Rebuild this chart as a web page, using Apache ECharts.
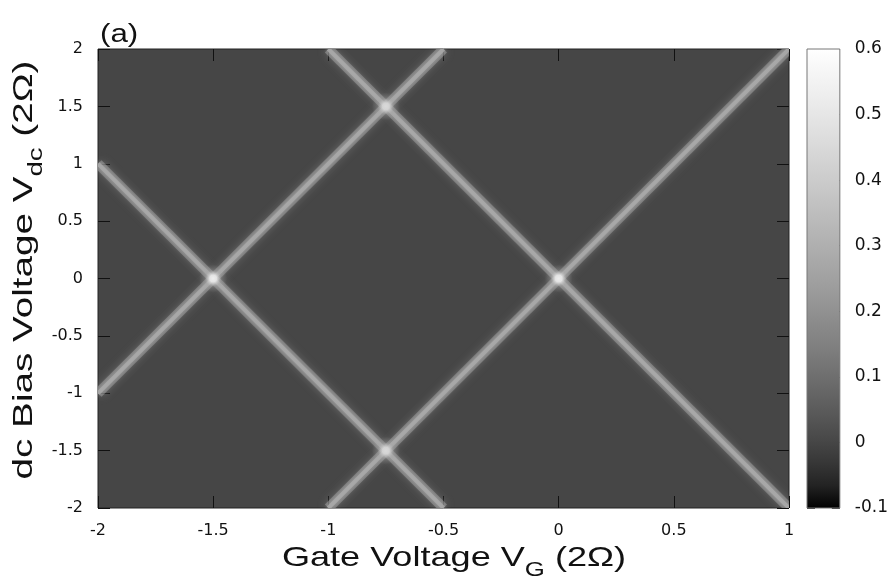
<!DOCTYPE html>
<html>
<head>
<meta charset="utf-8">
<script src="https://cdn.jsdelivr.net/npm/echarts@6/dist/echarts.min.js"></script>
<style>
  html, body { margin: 0; padding: 0; background: #ffffff; }
  #chart { width: 891px; height: 583px; }
</style>
</head>
<body>
<div id="chart"></div>
<script>
// Axis ranges, in units of 2Ω
const gateRange = [-2, 1];
const biasRange = [-2, 2];
const axisStep = 0.5;

// Colour scale of the conductance map
const colorRange = [-0.1, 0.6];
const colorStep = 0.1;
const backgroundLevel = 0;

// Conductance ridges, start and end points as [V_G, V_dc]
const ridgeStarts = [[-2, -1], [-2, 1], [-1, -2], [-1, 2]];
const ridgeEnds = [[-0.5, 2], [-0.5, -2], [1, 2], [1, -2]];
const ridgeLevel = 0.28;

// Ridge crossings (diamond corners)
const crossingGate = [-1.5, 0, -0.75, -0.75];
const crossingBias = [0, 0, 1.5, -1.5];
const crossingLevel = [0.6, 0.6, 0.5, 0.5];

// gnuplot-style gray palette (gamma 1.5)
function grayLevel(v) {
  const t = Math.min(1, Math.max(0, (v - colorRange[0]) / (colorRange[1] - colorRange[0])));
  return Math.round(255 * Math.pow(t, 1 / 1.5));
}
function gray(v, a) {
  const g = grayLevel(v);
  return a === undefined ? `rgb(${g},${g},${g})` : `rgba(${g},${g},${g},${a})`;
}

const colorStops = [];
for (let i = 0; i <= 20; i++) {
  const v = colorRange[1] - (colorRange[1] - colorRange[0]) * i / 20;
  colorStops.push({ offset: i / 20, color: gray(v) });
}

const chart = echarts.init(document.getElementById('chart'), null, { renderer: 'canvas' });

const tickFont = { fontFamily: 'DejaVu Sans', fontSize: 16, color: '#111' };
const mainTick = { show: true, inside: true, length: 12, lineStyle: { color: '#111', width: 1 } };
const barTick = { show: true, inside: true, length: 8, lineStyle: { color: '#333', width: 1 } };
const noLine = { show: false, onZero: false };

// ridge segments as [x1, y1, x2, y2]
const ridgeData = ridgeStarts.map((s, i) => [s[0], s[1], ridgeEnds[i][0], ridgeEnds[i][1], ridgeLevel]);

// one custom layer per stroke style: a soft glow, then the ridge core
function ridgeLayer(width, alpha, blur, z) {
  return {
    type: 'custom', xAxisIndex: 0, yAxisIndex: 0, silent: true, clip: true, z: z,
    data: ridgeData,
    renderItem: function (params, api) {
      const p1 = api.coord([api.value(0), api.value(1)]);
      const p2 = api.coord([api.value(2), api.value(3)]);
      const level = api.value(4);
      return {
        type: 'line',
        shape: { x1: p1[0], y1: p1[1], x2: p2[0], y2: p2[1] },
        style: {
          stroke: gray(level, alpha), lineWidth: width, lineCap: 'butt',
          shadowBlur: blur, shadowColor: gray(level, Math.min(1, alpha + 0.25))
        }
      };
    }
  };
}

const crossingSeries = {
  type: 'scatter', xAxisIndex: 0, yAxisIndex: 0,
  silent: true, z: 4, symbolSize: 28,
  data: crossingGate.map((g, i) => ({
    value: [g, crossingBias[i]],
    itemStyle: {
      color: {
        type: 'radial', x: 0.5, y: 0.5, r: 0.5,
        colorStops: [
          { offset: 0, color: gray(crossingLevel[i]) },
          { offset: 0.25, color: gray(crossingLevel[i], 0.85) },
          { offset: 0.6, color: gray(ridgeLevel, 0.3) },
          { offset: 1, color: gray(ridgeLevel, 0) }
        ]
      }
    }
  }))
};

const colorBarSeries = {
  type: 'custom', xAxisIndex: 2, yAxisIndex: 2, silent: true,
  data: [[0, colorRange[0], colorRange[1]]],
  renderItem: function (params, api) {
    const cs = params.coordSys;
    const top = api.coord([0, api.value(2)])[1];
    const bottom = api.coord([0, api.value(1)])[1];
    return {
      type: 'rect',
      shape: { x: cs.x, y: top, width: cs.width, height: bottom - top },
      style: {
        fill: { type: 'linear', x: 0, y: 0, x2: 0, y2: 1, colorStops: colorStops },
        stroke: '#777', lineWidth: 1
      }
    };
  }
};

const titleFont = 'Liberation Sans';

chart.setOption({
  animation: false,
  backgroundColor: '#ffffff',
  grid: [
    { left: 98, top: 49, width: 691, height: 459, show: true,
      backgroundColor: gray(backgroundLevel), borderColor: '#222', borderWidth: 1 },
    { left: 807, top: 49, width: 35, height: 459 }
  ],
  xAxis: [
    { gridIndex: 0, type: 'value', min: gateRange[0], max: gateRange[1], interval: axisStep,
      axisLine: noLine, splitLine: { show: false }, axisTick: mainTick,
      axisLabel: Object.assign({ margin: 15 }, tickFont) },
    { gridIndex: 0, type: 'value', position: 'top', min: gateRange[0], max: gateRange[1], interval: axisStep,
      axisLine: noLine, splitLine: { show: false }, axisTick: mainTick,
      axisLabel: { show: false } },
    { gridIndex: 1, type: 'category', data: [''], show: false }
  ],
  yAxis: [
    { gridIndex: 0, type: 'value', min: biasRange[0], max: biasRange[1], interval: axisStep,
      axisLine: noLine, splitLine: { show: false }, axisTick: mainTick,
      axisLabel: Object.assign({ margin: 15 }, tickFont) },
    { gridIndex: 0, type: 'value', position: 'right', min: biasRange[0], max: biasRange[1], interval: axisStep,
      axisLine: noLine, splitLine: { show: false }, axisTick: mainTick,
      axisLabel: { show: false } },
    { gridIndex: 1, type: 'value', position: 'right', min: colorRange[0], max: colorRange[1], interval: colorStep,
      axisLine: noLine, splitLine: { show: false }, axisTick: barTick,
      axisLabel: { margin: 15, fontFamily: 'DejaVu Sans', fontSize: 17, color: '#111',
        formatter: v => String(Math.round(v * 10) / 10) } },
    { gridIndex: 1, type: 'value', position: 'left', min: colorRange[0], max: colorRange[1], interval: colorStep,
      axisLine: noLine, splitLine: { show: false }, axisTick: barTick,
      axisLabel: { show: false } }
  ],
  series: [
    ridgeLayer(10, 0.45, 10, 2),
    ridgeLayer(4, 0.85, 4, 3),
    crossingSeries,
    colorBarSeries
  ],
  graphic: [
    { type: 'text', x: 100, y: 35, scaleX: 1.25,
      style: { text: '(a)', fontFamily: titleFont, fontSize: 25, fill: '#111',
        align: 'left', verticalAlign: 'middle' } },
    { type: 'text', x: 454, y: 558, scaleX: 1.29,
      style: { text: 'Gate Voltage V{s|G} (2Ω)', fontFamily: titleFont, fontSize: 28, fill: '#111',
        align: 'center', verticalAlign: 'middle',
        rich: { s: { fontFamily: titleFont, fontSize: 20, fill: '#111', padding: [24, 0, 0, 0] } } } },
    { type: 'text', x: 24, y: 270, rotation: Math.PI / 2, scaleX: 1.38,
      style: { text: 'dc Bias Voltage V{s|dc} (2Ω)', fontFamily: titleFont, fontSize: 28, fill: '#111',
        align: 'center', verticalAlign: 'middle',
        rich: { s: { fontFamily: titleFont, fontSize: 20, fill: '#111', padding: [24, 0, 0, 0] } } } }
  ]
});
</script>
</body>
</html>
